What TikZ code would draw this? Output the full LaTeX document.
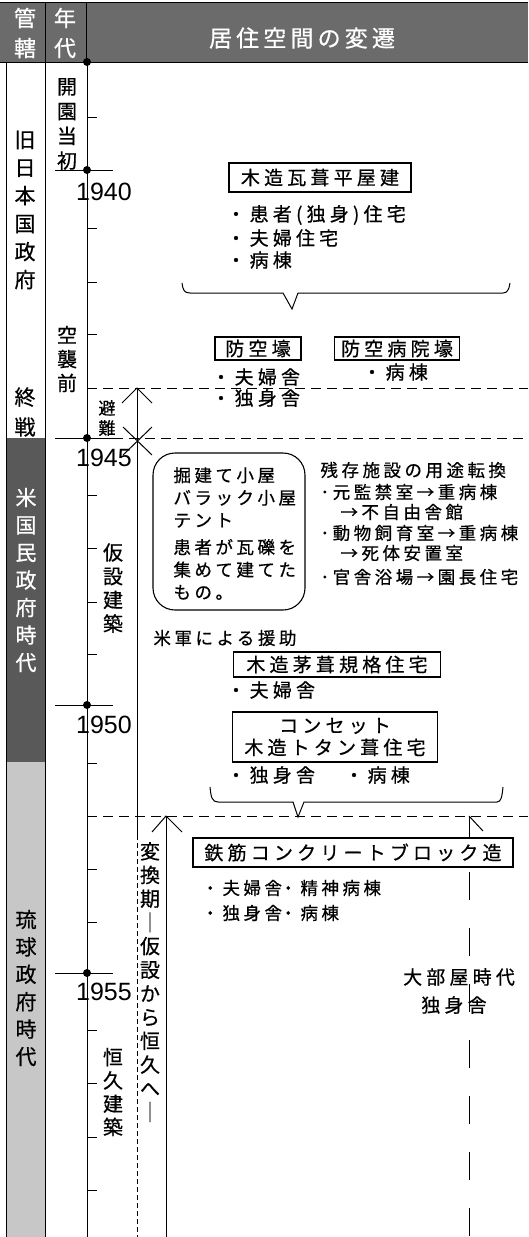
\documentclass[tikz,border=0pt]{standalone}
\usepackage{fontspec}
\setmainfont{Noto Sans CJK JP}[FakeBold=0.6]
\newfontfamily\jpA[LetterSpace=22,FakeBold=0.6]{Noto Sans CJK JP}
\newfontfamily\jpB[LetterSpace=20,FakeBold=0.6]{Noto Sans CJK JP}
\newfontfamily\jpH[LetterSpace=18,FakeBold=0.6]{Noto Sans CJK JP}
\newfontfamily\numf{Liberation Sans}
\definecolor{hdrgray}{gray}{0.42}
\definecolor{darkgray}{gray}{0.35}
\definecolor{lightgray}{gray}{0.78}
\tikzset{
  ln/.style={line width=1pt},
  vt/.style={inner sep=0, align=center},
  tA/.style={inner sep=0, anchor=west, font=\jpA\fontsize{19}{23}\selectfont},
  tB/.style={inner sep=0, anchor=west, font=\jpB\fontsize{17.5}{21}\selectfont},
  boxA/.style={draw, line width=1.1pt, fill=white, inner sep=0, align=center, font=\jpA\fontsize{19}{22}\selectfont},
  yr/.style={inner sep=0, font=\numf\fontsize{25}{25}\selectfont},
  dsh/.style={dash pattern=on 10pt off 6pt},
  sdsh/.style={dash pattern=on 5pt off 3pt},
  ldsh/.style={dash pattern=on 28pt off 28pt},
  dot/.style={circle, fill=black, inner sep=0, minimum size=8pt},
}
\begin{document}
\begin{tikzpicture}[x=1pt,y=-1pt,line width=1pt]
\useasboundingbox (0,0) rectangle (528,1237);
% header
\fill[hdrgray] (0,2) rectangle (528,62);
\draw (0,2) -- (528,2);
\draw (0,62) -- (528,62);
\draw (45,2) -- (45,62);
\draw (86,2) -- (86,62);
\node[vt, text=white, font=\fontsize{22}{30}\selectfont] (hkan) at (25,33) {管\\轄};
\node[vt, text=white, font=\fontsize{22}{30}\selectfont] (hnen) at (65,33) {年\\代};
\node[inner sep=0, text=white, font=\jpH\fontsize{23}{23}\selectfont] (htitle) at (302,38) {居住空間の変遷};
% column 1
\fill[darkgray] (6,438) rectangle (45,762);
\fill[lightgray] (6,762) rectangle (45,1237);
\draw (6,62) -- (6,1237);
\draw (45,62) -- (45,1237);
\node[vt, font=\fontsize{21}{28}\selectfont] (kyu) at (25,210) {旧\\日\\本\\国\\政\\府};
\node[vt, font=\fontsize{21}{30}\selectfont] (shu) at (25,412) {終\\戦};
\node[vt, text=white, font=\fontsize{21}{27.5}\selectfont] (bei) at (26,580) {米\\国\\民\\政\\府\\時\\代};
\node[vt, font=\fontsize{21}{27.4}\selectfont] (ryu) at (26,988) {琉\\球\\政\\府\\時\\代};
% column 2 labels
\node[vt, font=\fontsize{20}{24.7}\selectfont] (kaien) at (67,124) {開\\園\\当\\初};
\node[vt, font=\fontsize{20}{24}\selectfont] (kushu) at (67,359) {空\\襲\\前};
\node[vt, font=\fontsize{17}{20}\selectfont] (hinan) at (107,418) {避\\難};
\node[vt, font=\fontsize{20}{23.7}\selectfont] (kasetsu) at (113,588) {仮\\設\\建\\築};
\node[vt, font=\fontsize{20}{23.3}\selectfont] (kokyu) at (113,1092) {恒\\久\\建\\築};
\node[vt, font=\fontsize{20}{23.7}\selectfont] (henkan) at (150,982) {変\\換\\期\\｜\\仮\\設\\か\\ら\\恒\\久\\へ\\｜};
% timeline
\draw (87,62) -- (87,1237);
\foreach \t in {117,228,282,334,495,548,602,654,763,869,922,1030,1083,1137,1190}
  \draw (87,\t) -- (97,\t);
\foreach \t in {170,438,705,973}
  \draw (55,\t) -- (113,\t);
\node[dot] (d0) at (87,62) {};
\node[dot] (d40) at (87,170) {};
\node[dot] (d45) at (87,438) {};
\node[dot] (d50) at (87,705) {};
\node[dot] (d55) at (87,973) {};
\node[yr] (y40) at (104,192) {1940};
\node[yr] (y45) at (104,458) {1945};
\node[yr] (y50) at (104,725) {1950};
\node[yr] (y55) at (104,992) {1955};
% dashed period lines
\draw[dsh] (87,388) -- (528,388);
\draw[dsh] (113,438) -- (528,438);
\draw[dsh] (87,816) -- (528,816);
% arrow 1 (evacuation)
\draw (137,388) -- (137,835);
\draw[sdsh] (137,835) -- (137,1237);
\draw (122,403) -- (137,388) -- (152,403);
\draw (123,427) -- (152,455);
\draw (152,427) -- (123,455);
% arrow 2
\draw (166,816) -- (166,1237);
\draw (152,832) -- (166,816) -- (182,832);
% arrow 3
\draw[ldsh] (469,816) -- (469,1237);
\draw (469,816) -- (483,831);
% period 1
\node[boxA, minimum width=182pt, minimum height=29pt] (mokuzo) at (320,177.5) {木造瓦葺平屋建};
\node[tA] (m1) at (226,215) {・患者(独身)住宅};
\node[tA] (m2) at (226,238) {・夫婦住宅};
\node[tA] (m3) at (226,260) {・病棟};
\draw (182,283) .. controls (183,290) and (184,293) .. (190,293) -- (283,293) -- (292,309) -- (298,293) -- (503,293) .. controls (507,293) and (509,290) .. (510,283);
\node[boxA, minimum width=86pt, minimum height=23pt] (bokugo) at (258,348.5) {防空壕};
\node[boxA, minimum width=125pt, minimum height=23pt] (byoingo) at (397,348.5) {防空病院壕};
\node[tA] (bk1) at (211,377) {・夫婦舎};
\node[tA] (bk2) at (211,398) {・独身舎};
\node[tA] (bg1) at (362,372) {・病棟};
% period 2
\node[draw, line width=1.1pt, rounded corners=22pt, minimum width=152pt, minimum height=157pt] (hut) at (229,531.5) {};
\node[inner sep=0, anchor=west, align=left, font=\jpB\fontsize{17.5}{22.5}\selectfont] (huttxt) at (173,533.5) {掘建て小屋\\バラック小屋\\テント\\[4.5pt]患者が瓦礫を\\集めて建てた\\もの。};
\node[tB] (z0) at (320,470) {残存施設の用途転換};
\node[tB] (z1) at (320,492) {･元監禁室→重病棟};
\node[tB] (z2) at (340,512) {→不自由舎館};
\node[tB] (z3) at (320,533) {･動物飼育室→重病棟};
\node[tB] (z4) at (340,553) {→死体安置室};
\node[tB] (z5) at (320,577) {･官舎浴場→園長住宅};
\node[tB] (beigun) at (153,638) {米軍による援助};
\node[boxA, minimum width=207pt, minimum height=25pt] (kaya) at (337,664.5) {木造茅葺規格住宅};
\node[tA] (k1) at (226,690) {・夫婦舎};
\node[boxA, minimum width=205pt, minimum height=50pt] (quonset) at (335,737) {コンセット\\木造トタン葺住宅};
\node[tA] (q1) at (226,775) {・独身舎};
\node[tA] (q2) at (344,775) {・病棟};
\draw (210,787) .. controls (211,797) and (212,802) .. (218,802) -- (293,802) -- (298,817) -- (304,802) -- (497,802) .. controls (501,802) and (502,797) .. (503,787);
% period 3
\node[boxA, minimum width=320pt, minimum height=29pt] (rc) at (353,852.5) {鉄筋コンクリートブロック造};
\node[tB] (r1) at (201,888) {・夫婦舎};
\node[tB] (r2) at (279,888) {・精神病棟};
\node[tB] (r3) at (201,913) {・独身舎};
\node[tB] (r4) at (279,913) {・病棟};
\node[inner sep=0, font=\jpA\fontsize{19}{23}\selectfont] (obeya) at (459,977) {大部屋時代};
\node[inner sep=0, font=\jpA\fontsize{19}{23}\selectfont] (dokushin) at (454,1005) {独身舎};
\end{tikzpicture}
\end{document}
